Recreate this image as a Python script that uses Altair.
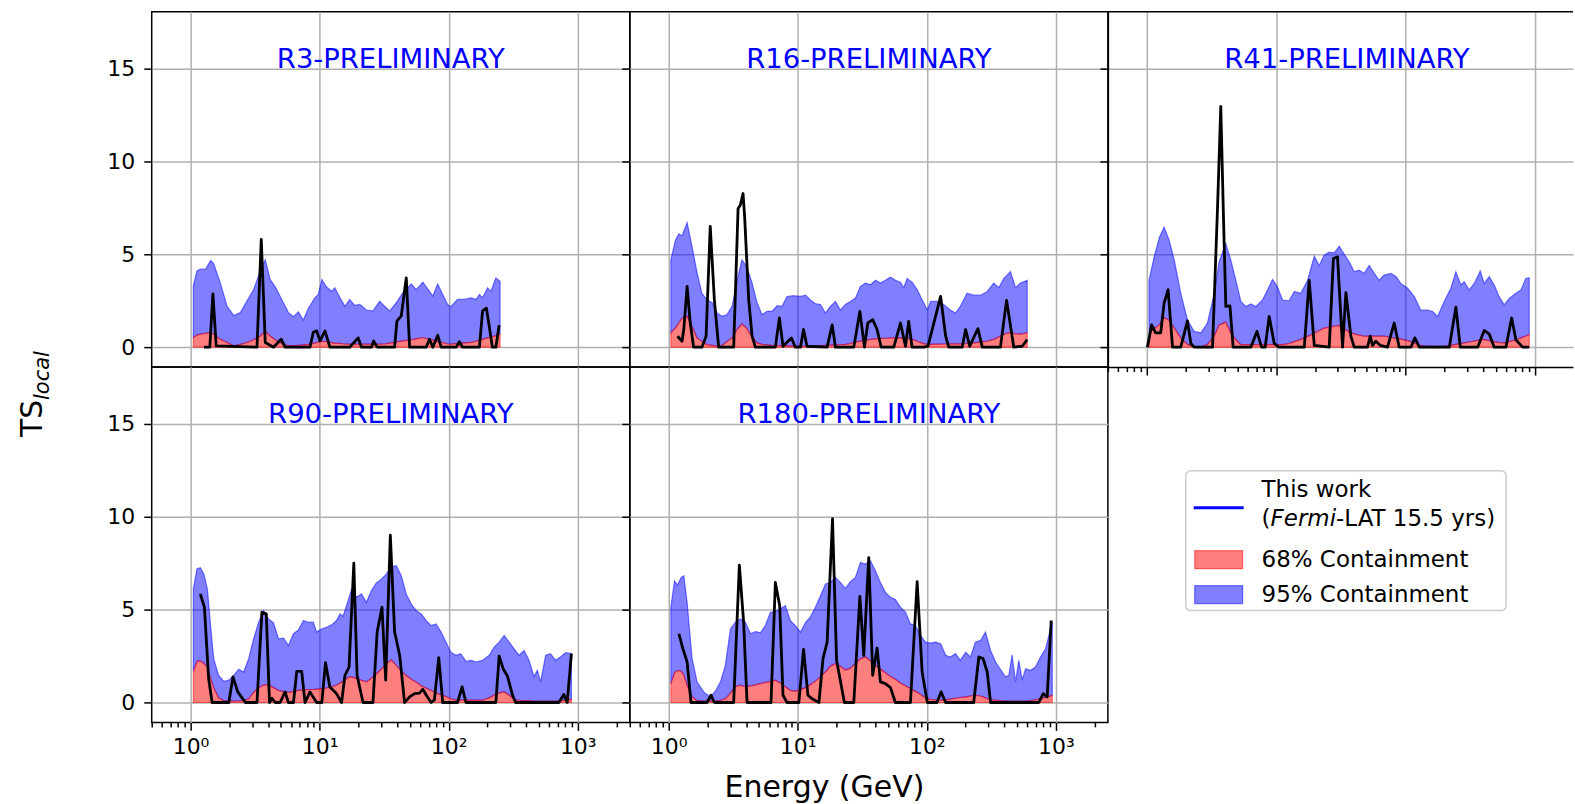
import altair as alt
import pandas as pd

# ------------------------------------------------------------------ data
# R3
R3_BAND_E = [1.05, 1.12, 1.19, 1.31, 1.43, 1.51, 1.70, 1.92, 2.16, 2.43,
             2.74, 3.08, 3.47, 3.79, 4.14, 4.53, 5.09, 5.73, 6.27, 6.84,
             7.48, 8.18, 9.20, 9.77, 10.4, 11.3, 12.4, 13.1, 14.4, 15.7,
             17.1, 18.7, 20.5, 23.0, 25.9, 29.2, 31.9, 34.9, 39.3, 44.2,
             51.3, 56.0, 63.1, 71.0, 75.3, 82.2, 89.9, 98.2, 104, 117,
             132, 149, 163, 173, 183, 200, 212, 232, 250]
R3_R95 = [3.3, 4.1, 4.2, 4.2, 4.66, 4.5, 3.46, 2.2, 1.7, 1.86,
          2.5, 3.1, 4.1, 4.7, 3.64, 3.25, 2.57, 1.86, 1.64, 1.9,
          1.46, 2.1, 2.66, 2.84, 3.64, 3.25, 3.0, 3.2, 2.66, 2.2,
          2.57, 2.25, 2.3, 2.0, 1.95, 2.48, 2.2, 1.95, 2.4, 2.93,
          3.4, 3.1, 3.5, 3.0, 2.75, 3.4, 2.84, 2.3, 2.18, 2.57,
          2.57, 2.66, 2.57, 2.84, 2.66, 3.2, 3.0, 3.73, 3.55]
R3_R68 = [0.52, 0.65, 0.7, 0.75, 0.8, 0.7, 0.43, 0.25, 0.07, 0.15,
          0.25, 0.4, 0.6, 0.87, 0.6, 0.4, 0.2, 0.08, 0.08, 0.1,
          0.12, 0.15, 0.22, 0.28, 0.32, 0.3, 0.25, 0.22, 0.2, 0.17,
          0.16, 0.16, 0.16, 0.16, 0.16, 0.16, 0.17, 0.22, 0.28, 0.34,
          0.4, 0.45, 0.52, 0.42, 0.38, 0.3, 0.25, 0.17, 0.16, 0.2,
          0.23, 0.26, 0.32, 0.38, 0.43, 0.5, 0.55, 0.62, 0.7]
R3_LINE_E = [1.27, 1.41, 1.49, 1.58, 3.27, 3.53, 3.79, 4.39, 5.03, 5.40,
             8.42, 8.93, 9.48, 10.06, 11.0, 12.0, 17.1, 19.9, 21.1, 25.2,
             26.2, 27.9, 38.1, 39.7, 42.9, 46.9, 49.8, 66.9, 71.0, 75.3,
             82.2, 87.3, 114, 121, 128, 173, 183, 196, 206, 218,
             232, 246]
R3_TS = [0, 0, 2.87, 0.07, 0, 5.8, 0.25, 0, 0.43, 0,
         0, 0.8, 0.88, 0.34, 0.87, 0, 0, 0.5, 0, 0,
         0.34, 0, 0, 1.4, 1.68, 3.73, 0, 0, 0.43, 0,
         0.64, 0, 0, 0.29, 0, 0, 1.95, 2.1, 1.14, 0,
         0, 1.18]

# R16
R16_BAND_E = [1.04, 1.13, 1.20, 1.27, 1.39, 1.52, 1.66, 1.81, 1.98, 2.17,
              2.37, 2.59, 2.83, 3.10, 3.39, 3.70, 4.05, 4.43, 4.84, 5.29,
              5.78, 6.32, 6.92, 7.56, 8.26, 9.31, 10.5, 11.5, 12.5, 13.7,
              15.0, 16.4, 17.9, 19.6, 21.4, 23.4, 25.6, 28.0, 30.6, 33.5,
              36.6, 40.0, 43.7, 47.8, 52.3, 57.1, 62.5, 66.3, 70.4, 76.9,
              84.2, 92.0, 101, 107, 120, 135, 152, 167, 182, 205,
              231, 261, 294, 330, 361, 395, 445, 487, 532, 600]
R16_R95 = [4.7, 5.77, 6.1, 6.0, 6.7, 5.4, 4.0, 2.9, 2.55, 2.4,
           1.84, 1.66, 1.75, 2.2, 3.6, 4.7, 4.3, 3.45, 2.4, 1.75,
           1.93, 1.93, 2.23, 2.2, 2.73, 2.77, 2.73, 2.8, 2.55, 2.34,
           2.3, 1.84, 2.2, 2.46, 2.0, 2.3, 2.46, 2.64, 3.27, 3.45,
           3.36, 3.6, 3.45, 3.6, 3.77, 3.6, 3.5, 3.2, 3.7, 3.5,
           3.1, 2.55, 2.0, 2.46, 2.46, 2.3, 2.0, 1.84, 2.2, 2.9,
           2.8, 2.8, 3.0, 3.45, 3.2, 3.7, 4.07, 3.2, 3.45, 3.6]
R16_R68 = [0.77, 1.05, 1.3, 1.57, 1.66, 1.1, 0.5, 0.3, 0.14, 0.1,
           0.05, 0.1, 0.3, 0.5, 0.95, 1.25, 1.0, 0.55, 0.23, 0.15,
           0.12, 0.1, 0.09, 0.08, 0.07, 0.06, 0.06, 0.05, 0.05, 0.06,
           0.08, 0.1, 0.11, 0.12, 0.13, 0.15, 0.2, 0.27, 0.33, 0.38,
           0.42, 0.45, 0.47, 0.48, 0.5, 0.5, 0.5, 0.5, 0.5, 0.42,
           0.32, 0.22, 0.14, 0.15, 0.16, 0.17, 0.18, 0.18, 0.18, 0.2,
           0.23, 0.27, 0.32, 0.42, 0.55, 0.7, 0.8, 0.72, 0.7, 0.77]
R16_LINE_E = [1.17, 1.27, 1.31, 1.39, 1.47, 1.56, 1.81, 1.95, 2.10, 2.26,
              2.44, 3.19, 3.45, 3.59, 3.77, 3.88, 4.17, 4.43, 4.70, 6.71,
              7.21, 7.69, 8.26, 8.93, 9.59, 10.5, 11.1, 11.8, 16.9, 18.5,
              19.6, 27.2, 30.3, 32.9, 34.9, 38.1, 41.2, 44.3, 55.5, 62.5,
              68.4, 72.4, 76.9, 94.8, 102, 111, 128, 140, 148, 188,
              200, 215, 249, 269, 372, 415, 472, 548, 600]
R16_TS = [0.59, 0.32, 0.95, 3.27, 1.3, 0, 0, 0.59, 6.5, 2.55,
          0, 0, 7.46, 7.64, 8.27, 7.0, 2.55, 0.59, 0, 0,
          1.57, 0.05, 0.27, 0.5, 0, 0, 0.95, 0.05, 0, 1.2,
          0, 0, 1.93, 0, 1.3, 1.48, 0.95, 0, 0, 1.3,
          0.05, 1.39, 0, 0, 0.05, 1.04, 2.73, 0.59, 0, 0,
          0.95, 0.05, 1.0, 0, 0, 2.52, 0, 0.05, 0.41]

# R41
R41_BAND_E = [1.04, 1.14, 1.25, 1.36, 1.49, 1.63, 1.83, 2.06, 2.32, 2.62,
              2.94, 3.32, 3.62, 4.08, 4.46, 4.88, 5.33, 5.82, 6.37, 6.97,
              7.84, 8.57, 9.37, 10.2, 11.2, 12.6, 13.8, 15.5, 17.5, 19.7,
              21.5, 23.5, 25.7, 28.1, 30.7, 33.6, 36.7, 40.1, 43.8, 47.9,
              52.4, 57.3, 62.5, 68.4, 77.1, 84.2, 92.0, 104, 117, 131,
              148, 162, 177, 199, 224, 245, 268, 284, 311, 340,
              378, 406, 444, 485, 530, 579, 634, 713, 780, 851,
              904]
R41_R95 = [3.6, 4.86, 5.9, 6.46, 5.75, 4.68, 2.9, 1.48, 0.85, 0.77,
           1.3, 2.9, 4.6, 5.57, 4.68, 3.6, 2.46, 2.19, 2.33, 2.19,
           2.54, 3.08, 3.65, 3.26, 2.54, 2.5, 3.0, 2.9, 3.6, 4.9,
           4.4, 4.95, 5.12, 5.07, 5.43, 5.0, 4.6, 4.06, 4.15, 3.97,
           4.4, 3.97, 3.6, 3.88, 3.97, 3.8, 3.43, 3.17, 2.72, 2.0,
           2.0, 1.92, 1.65, 2.46, 3.17, 4.06, 3.35, 3.52, 3.08, 3.43,
           4.1, 3.43, 3.8, 3.35, 2.72, 2.28, 2.63, 2.9, 3.08, 3.7,
           3.74]
R41_R68 = [0.77, 1.0, 1.2, 1.6, 1.45, 1.03, 0.5, 0.15, 0.03, 0.02,
           0.15, 0.6, 1.2, 1.35, 0.77, 0.4, 0.14, 0.14, 0.14, 0.14,
           0.14, 0.14, 0.14, 0.14, 0.14, 0.2, 0.3, 0.42, 0.58, 0.75,
           0.9, 1.03, 1.08, 1.14, 1.17, 1.0, 0.8, 0.72, 0.65, 0.59,
           0.59, 0.59, 0.59, 0.59, 0.52, 0.47, 0.43, 0.35, 0.22, 0.08,
           0.05, 0.05, 0.05, 0.05, 0.1, 0.15, 0.2, 0.23, 0.28, 0.33,
           0.4, 0.41, 0.35, 0.3, 0.25, 0.23, 0.3, 0.4, 0.5, 0.6,
           0.68]
R41_LINE_E = [1.01, 1.09, 1.17, 1.28, 1.36, 1.46, 1.58, 1.83, 2.06, 2.19,
              2.32, 3.22, 3.52, 3.73, 3.92, 4.08, 4.39, 4.65, 6.37, 7.10,
              7.71, 8.22, 8.83, 9.66, 10.5, 16.5, 18.0, 19.7, 25.7, 27.7,
              29.8, 32.6, 34.6, 37.8, 40.1, 50.8, 53.3, 55.6, 59.0, 63.7,
              72.6, 81.7, 89.3, 110, 118, 128, 218, 245, 265, 361,
              406, 444, 485, 597, 661, 713, 804, 904]
R41_TS = [0, 1.2, 0.77, 0.77, 2.37, 3.1, 0, 0, 1.42, 0.2,
          0, 0, 7.5, 12.95, 6.8, 2.19, 2.22, 0, 0, 0.85,
          0, 0, 1.65, 0.2, 0, 0, 3.6, 0.1, 0, 4.77,
          4.86, 0, 2.94, 0.59, 0, 0, 0.59, 0.1, 0.32, 0.1,
          0, 1.3, 0, 0, 0.5, 0, 0, 2.15, 0, 0,
          0.9, 0.7, 0, 0, 1.57, 0.4, 0, 0]

# R90
R90_BAND_E = [1.05, 1.12, 1.19, 1.27, 1.35, 1.43, 1.51, 1.65, 1.81, 1.98,
              2.16, 2.36, 2.58, 2.82, 3.08, 3.37, 3.68, 4.02, 4.39, 4.80,
              5.25, 5.73, 6.27, 6.84, 7.48, 8.18, 8.93, 9.48, 10.4, 11.3,
              12.4, 13.5, 14.4, 15.2, 16.6, 17.7, 19.3, 21.1, 23.0, 25.2,
              27.5, 30.1, 32.9, 35.9, 39.3, 42.9, 46.9, 51.3, 56.0, 61.2,
              66.9, 73.1, 79.8, 87.3, 95.3, 104, 114, 124, 136, 149,
              163, 183, 206, 225, 246, 269, 294, 321, 351, 384,
              419, 458, 486, 515, 564, 615, 673, 735, 804, 893]
R90_R95 = [6.1, 7.2, 7.25, 6.9, 6.1, 4.14, 2.36, 1.46, 1.14, 1.2,
           1.46, 1.79, 1.64, 2.36, 3.43, 4.32, 4.95, 4.5, 4.29, 3.43,
           3.46, 3.07, 3.7, 3.9, 4.41, 4.32, 4.32, 3.79, 3.96, 4.05,
           4.18, 4.41, 4.77, 4.64, 5.48, 6.1, 5.66, 5.84, 5.39, 6.02,
           6.43, 6.64, 6.91, 7.32, 7.36, 6.82, 5.84, 5.3, 4.95, 4.77,
           4.41, 4.14, 4.23, 3.79, 3.25, 2.71, 2.54, 2.63, 2.21, 2.27,
           2.18, 2.27, 2.54, 2.98, 3.25, 3.61, 3.25, 2.89, 2.54, 2.8,
           2.27, 1.38, 1.73, 1.11, 2.54, 2.63, 2.27, 2.45, 2.68, 2.63]
R90_R68 = [1.68, 2.2, 2.25, 2.1, 1.9, 1.29, 0.8, 0.25, 0.1, 0.07,
           0.07, 0.08, 0.1, 0.2, 0.55, 0.8, 0.95, 0.95, 0.8, 0.65,
           0.57, 0.55, 0.6, 0.65, 0.68, 0.7, 0.7, 0.72, 0.75, 0.78,
           0.85, 0.93, 1.05, 1.15, 1.35, 1.38, 1.3, 1.2, 1.11, 1.3,
           1.55, 1.8, 2.1, 2.3, 2.0, 1.7, 1.45, 1.25, 1.1, 0.9,
           0.78, 0.65, 0.52, 0.42, 0.32, 0.2, 0.13, 0.13, 0.13, 0.13,
           0.13, 0.13, 0.25, 0.4, 0.52, 0.57, 0.4, 0.15, 0.12, 0.1,
           0.1, 0.08, 0.08, 0.07, 0.07, 0.07, 0.08, 0.1, 0.13, 0.18]
R90_LINE_E = [1.19, 1.28, 1.38, 1.47, 1.98, 2.13, 2.32, 2.66, 3.27, 3.57,
              3.86, 4.09, 4.27, 4.53, 4.94, 5.40, 5.73, 6.27, 6.65, 7.26,
              7.71, 8.42, 9.48, 10.4, 11.1, 12.0, 13.5, 14.8, 15.7, 16.9,
              18.4, 19.5, 21.7, 25.9, 27.9, 30.4, 32.5, 35.3, 38.1, 41.7,
              45.5, 49.8, 54.3, 59.4, 63.0, 66.9, 73.1, 77.5, 83.7, 89.9,
              117, 127, 136, 232, 246, 264, 285, 312, 330, 713,
              780, 828, 893]
R90_TS = [5.84, 5.13, 1.29, 0, 0, 1.38, 0.57, 0, 0, 4.86,
          4.77, 0, 0.23, 0, 0, 0.57, 0, 0, 1.68, 1.68,
          0, 0.57, 0, 0, 2.14, 0.84, 0.48, 0, 1.46, 1.91,
          7.5, 1.46, 0, 0, 3.79, 5.13, 1.2, 9.0, 3.79, 2.54,
          0, 0.3, 0.48, 0.5, 0.71, 0.4, 0, 0.14, 2.41, 0,
          0, 0.84, 0, 0, 2.5, 1.82, 1.43, 0.4, 0, 0,
          0.43, 0, 2.63]

# R180
R180_BAND_E = [1.04, 1.11, 1.17, 1.25, 1.31, 1.39, 1.52, 1.66, 1.87, 2.10,
               2.30, 2.52, 2.75, 3.01, 3.29, 3.59, 3.93, 4.30, 4.70, 5.14,
               5.61, 6.14, 6.71, 7.34, 8.02, 8.77, 9.59, 10.5, 11.5, 12.5,
               13.7, 15.0, 16.4, 17.9, 19.6, 21.4, 23.4, 25.6, 28.0, 30.6,
               33.5, 36.6, 40.0, 43.7, 47.8, 52.3, 57.1, 62.5, 68.4, 74.7,
               81.7, 89.3, 97.7, 107, 117, 128, 140, 152, 167, 182,
               200, 218, 238, 261, 285, 312, 341, 372, 407, 432,
               458, 487, 516, 548, 582, 637, 695, 760, 832, 883,
               938]
R180_R95 = [5.13, 6.55, 6.32, 6.73, 6.82, 5.39, 2.36, 1.11, 0.57, 0.3,
            0.61, 1.11, 2.0, 3.96, 4.32, 4.5, 4.32, 3.7, 3.82, 3.75,
            4.14, 4.86, 4.89, 5.04, 5.21, 4.41, 4.14, 3.79, 4.32, 4.59,
            5.13, 5.75, 6.38, 6.46, 6.73, 6.46, 6.14, 6.5, 6.73, 7.54,
            7.45, 7.63, 7.09, 6.46, 5.93, 5.66, 5.54, 5.13, 4.86, 4.23,
            4.14, 3.61, 3.25, 3.2, 3.25, 3.16, 2.54, 2.45, 2.63, 2.27,
            2.71, 2.45, 3.25, 3.34, 3.79, 2.8, 2.18, 1.79, 1.38, 1.46,
            2.57, 1.11, 2.27, 1.2, 1.82, 1.73, 1.91, 2.45, 2.89, 3.61,
            4.32]
R180_R68 = [1.02, 1.6, 1.73, 1.68, 1.5, 0.93, 0.3, 0.1, 0.07, 0.07,
            0.08, 0.12, 0.2, 0.5, 0.85, 0.93, 0.85, 0.9, 0.95, 1.02,
            1.08, 1.13, 1.2, 1.05, 0.85, 0.65, 0.6, 0.7, 0.8, 0.95,
            1.15, 1.38, 1.65, 1.95, 2.09, 1.95, 1.75, 1.85, 2.1, 2.35,
            2.45, 2.25, 2.0, 1.8, 1.6, 1.4, 1.25, 1.05, 0.9, 0.75,
            0.6, 0.45, 0.25, 0.17, 0.14, 0.13, 0.14, 0.18, 0.23, 0.27,
            0.3, 0.35, 0.39, 0.35, 0.25, 0.15, 0.13, 0.1, 0.08, 0.08,
            0.08, 0.07, 0.07, 0.07, 0.07, 0.1, 0.15, 0.2, 0.28, 0.33,
            0.39]
R180_LINE_E = [1.20, 1.29, 1.39, 1.49, 1.98, 2.13, 2.26, 3.19, 3.53, 3.81,
               4.05, 6.21, 6.71, 7.25, 7.69, 8.26, 10.2, 11.1, 12.0, 12.9,
               14.6, 15.7, 16.9, 18.6, 20.0, 23.0, 27.2, 30.3, 32.5, 35.5,
               38.1, 41.2, 43.7, 47.8, 52.3, 57.1, 74.7, 84.2, 92.0, 101,
               120, 129, 140, 231, 253, 273, 294, 312, 738, 798,
               857, 920]
R180_TS = [3.7, 2.89, 2.18, 0, 0, 0.39, 0, 0, 7.39, 4.32,
           0, 0, 6.46, 5.21, 0.39, 0, 0, 2.86, 0.39, 0.2,
           0, 2.36, 3.25, 9.89, 2.27, 0, 0, 5.71, 2.54, 7.8,
           1.46, 2.93, 1.11, 1.02, 0.8, 0, 0, 6.5, 1.64, 0,
           0, 0.57, 0, 0, 2.45, 2.36, 1.64, 0, 0, 0.48,
           0.3, 4.41]

PANEL_TITLES = ["R3-PRELIMINARY", "R16-PRELIMINARY", "R41-PRELIMINARY",
                "R90-PRELIMINARY", "R180-PRELIMINARY"]
X_TICKS = [0.5, 0.6, 0.7, 0.8, 0.9, 1, 2, 3, 4, 5, 6, 7, 8, 9,
           10, 20, 30, 40, 50, 60, 70, 80, 90,
           100, 200, 300, 400, 500, 600, 700, 800, 900, 1000, 2000]
X_DECADES = [1, 10, 100, 1000]
Y_TICKS = [0, 5, 10, 15]
LEGEND_TEXT = ["This work", "(", "Fermi", "-LAT 15.5 yrs)",
               "68% Containment", "95% Containment"]
X_TITLE = "Energy (GeV)"
Y_TITLE_MAIN = "TS"
Y_TITLE_SUB = "local"

# ------------------------------------------------------------------ style
FONT = "DejaVu Sans"
BLUE = "#0000ff"
RED = "#ff0000"
Y_DOMAIN = [-1.07, 18.05]
X_DOMAIN_FULL = [0.5, 2530]
X_DOMAIN_CUT = [0.5, 1971]
PANEL_W = 479
PANEL_W_CUT = 466
PANEL_H = 356
TICK_FONT = 22

IS_DECADE = "abs(log(datum.value)/LN10 - round(log(datum.value)/LN10)) < 0.001"
LABEL_EXPR = ("datum.value == 1 ? '10⁰' : datum.value == 10 ? '10¹' : "
              "datum.value == 100 ? '10²' : datum.value == 1000 ? '10³' : ''")


def x_axis(kind, ticks, domain=False):
    if kind == "grid":
        return alt.Axis(values=X_DECADES, ticks=False, labels=False, domain=domain,
                        grid=True, title=None)
    return alt.Axis(values=ticks, ticks=True, labels=(kind == "labels"),
                    labelExpr=LABEL_EXPR, labelOverlap=False, labelFlush=False,
                    labelFontSize=TICK_FONT, labelPadding=6, domain=domain,
                    domainColor="black", domainWidth=1.5, grid=True, title=None,
                    tickSize={"condition": {"test": IS_DECADE, "value": 8}, "value": 4.5},
                    gridOpacity={"condition": {"test": IS_DECADE, "value": 1}, "value": 0})


def y_axis(labels, domain=False):
    return alt.Axis(values=Y_TICKS, labels=labels, tickSize=8, labelPadding=9,
                    labelFontSize=TICK_FONT, grid=True, domain=domain,
                    domainColor="black", domainWidth=1.5, title=None)


def panel(title, band_e, r68, r95, line_e, ts, width, xdomain, xkind, ylabels,
          extra=(), open_right=False):
    band = pd.DataFrame({"E": band_e, "r68": r68, "r95": r95})
    line = pd.DataFrame({"E": line_e, "TS": ts})
    ticks = [t for t in X_TICKS if t <= xdomain[1]]
    xs = alt.Scale(type="log", domain=xdomain, nice=False)
    ys = alt.Scale(domain=Y_DOMAIN, nice=False, zero=False)
    xa = x_axis(xkind, ticks, domain=open_right)
    ya = y_axis(ylabels, domain=open_right)
    blue = alt.Chart(band).mark_area(fill=BLUE, fillOpacity=0.5, stroke=BLUE,
                                     strokeOpacity=0.5, strokeWidth=1.2).encode(
        x=alt.X("E:Q", scale=xs, axis=xa),
        y=alt.Y("r95:Q", scale=ys, axis=ya),
        y2="r68:Q")
    red = alt.Chart(band).mark_area(fill=RED, fillOpacity=0.5, stroke=RED,
                                    strokeOpacity=0.5, strokeWidth=1.2).encode(
        x=alt.X("E:Q", scale=xs, axis=xa),
        y=alt.Y("r68:Q", scale=ys, axis=ya),
        y2=alt.datum(0))
    black = alt.Chart(line).mark_line(color="black", strokeWidth=2.8,
                                      strokeJoin="round").encode(
        x=alt.X("E:Q", scale=xs, axis=xa),
        y=alt.Y("TS:Q", scale=ys, axis=ya))
    ttl = alt.Chart(pd.DataFrame({"label": [title]})).mark_text(
        color=BLUE, fontSize=27.5, font=FONT, align="center", baseline="alphabetic"
    ).encode(text="label:N", x=alt.value(239.5), y=alt.value(56))
    layers = [blue, red, black, ttl, *extra]
    props = dict(width=width, height=PANEL_H)
    if open_right:
        # top spine only (the panel runs past the right edge of the figure)
        top_spine = alt.Chart(pd.DataFrame({"k": [0]})).mark_rule(
            color="black", strokeWidth=1.5).encode(
            y=alt.datum(Y_DOMAIN[1], scale=ys))
        layers.append(top_spine)
        props["view"] = alt.ViewBackground(stroke="transparent")
    return alt.layer(*layers).properties(**props)


one = pd.DataFrame({"k": [0]})

ylab_main = alt.Chart(one).mark_text(fontSize=30, font=FONT, angle=270, align="left",
                                     baseline="alphabetic", color="black").encode(
    text=alt.value(Y_TITLE_MAIN), x=alt.value(-110), y=alt.value(426))
ylab_sub = alt.Chart(one).mark_text(fontSize=21, font=FONT, fontStyle="italic", angle=270,
                                    align="left", baseline="alphabetic", color="black").encode(
    text=alt.value(Y_TITLE_SUB), x=alt.value(-103), y=alt.value(389))
xlab = alt.Chart(one).mark_text(fontSize=30, font=FONT, align="center",
                                baseline="alphabetic", color="black").encode(
    text=alt.value(X_TITLE), x=alt.value(195), y=alt.value(431))

p1 = panel(PANEL_TITLES[0], R3_BAND_E, R3_R68, R3_R95, R3_LINE_E, R3_TS,
           PANEL_W, X_DOMAIN_FULL, "grid", True, extra=(ylab_main, ylab_sub))
p2 = panel(PANEL_TITLES[1], R16_BAND_E, R16_R68, R16_R95, R16_LINE_E, R16_TS,
           PANEL_W, X_DOMAIN_FULL, "grid", False)
p3 = panel(PANEL_TITLES[2], R41_BAND_E, R41_R68, R41_R95, R41_LINE_E, R41_TS,
           PANEL_W_CUT, X_DOMAIN_CUT, "ticks", False, open_right=True)
p4 = panel(PANEL_TITLES[3], R90_BAND_E, R90_R68, R90_R95, R90_LINE_E, R90_TS,
           PANEL_W, X_DOMAIN_FULL, "labels", True)
p5 = panel(PANEL_TITLES[4], R180_BAND_E, R180_R68, R180_R95, R180_LINE_E, R180_TS,
           PANEL_W, X_DOMAIN_FULL, "labels", False, extra=(xlab,))

# ------------------------------------------------------------------ legend cell
box = alt.Chart(one).mark_rect(fill="white", stroke="#cccccc", strokeWidth=1.5,
                               cornerRadius=5).encode(
    x=alt.value(78), x2=alt.value(399), y=alt.value(104), y2=alt.value(244))
sym_line = alt.Chart(one).mark_rule(color=BLUE, strokeWidth=3).encode(
    x=alt.value(86), x2=alt.value(136), y=alt.value(141))
sym_red = alt.Chart(one).mark_rect(fill=RED, fillOpacity=0.5, stroke=RED,
                                   strokeOpacity=0.5, strokeWidth=1.2).encode(
    x=alt.value(87), x2=alt.value(135), y=alt.value(184), y2=alt.value(202))
sym_blue = alt.Chart(one).mark_rect(fill=BLUE, fillOpacity=0.5, stroke=BLUE,
                                    strokeOpacity=0.5, strokeWidth=1.2).encode(
    x=alt.value(87), x2=alt.value(135), y=alt.value(219), y2=alt.value(237))


def ltext(txt, x, y, italic=False):
    kw = dict(fontSize=23, font=FONT, align="left", baseline="alphabetic", color="black")
    if italic:
        kw["fontStyle"] = "italic"
    return alt.Chart(one).mark_text(**kw).encode(
        text=alt.value(txt), x=alt.value(x), y=alt.value(y))


legend_cell = alt.layer(
    box, sym_line, sym_red, sym_blue,
    ltext(LEGEND_TEXT[0], 154, 130),
    ltext(LEGEND_TEXT[1], 154, 159),
    ltext(LEGEND_TEXT[2], 163, 159, italic=True),
    ltext(LEGEND_TEXT[3], 228.6, 159),
    ltext(LEGEND_TEXT[4], 154, 200),
    ltext(LEGEND_TEXT[5], 154, 235),
).properties(width=466, height=PANEL_H, view=alt.ViewBackground(stroke="transparent"))

chart = alt.concat(
    p1, p2, p3, p4, p5, legend_cell, columns=3, spacing=0, bounds="flush"
).resolve_scale(
    x="independent", y="independent"
).properties(
    autosize=alt.AutoSizeParams(type="pad"),
    padding={"left": 17, "top": 9, "right": 0, "bottom": 0},
    background="white",
).configure(font=FONT).configure_view(
    stroke="black", strokeWidth=1.5
).configure_axis(
    gridColor="#b0b0b0", gridWidth=1.5, tickColor="black", tickWidth=1.5,
    labelColor="black", labelFont=FONT
)

chart.save("out.html", embed_options={"renderer": "svg", "actions": False})
